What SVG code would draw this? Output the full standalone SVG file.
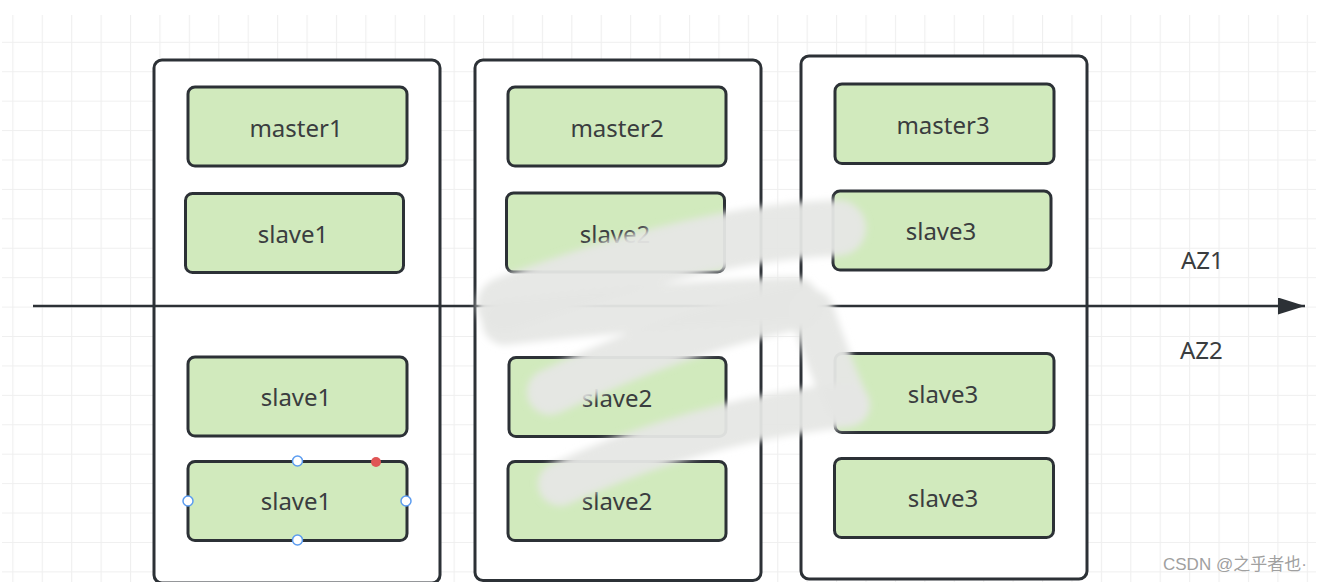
<svg xmlns="http://www.w3.org/2000/svg" width="1328" height="582" viewBox="0 0 1328 582">
  <style>
    .cont { fill: #ffffff; stroke: #2c3136; stroke-width: 3; }
    .node { fill: #d1eabd; stroke: #2c3136; stroke-width: 3; }
    .lbl { font-family: "Noto Sans", "Open Sans", sans-serif; font-size: 24px; fill: #3a3d3f; text-anchor: middle; }
    .az { font-family: "Noto Sans", "Open Sans", sans-serif; font-size: 24px; fill: #3a3d3f; }
    .handle { fill: #ffffff; stroke: #5b9cf0; stroke-width: 1.5; }
    .scrib { fill: none; stroke: #e6e7e5; stroke-linecap: round; stroke-linejoin: round; stroke-opacity: 0.95; }
  </style>
  <defs>
    <pattern id="grid" patternUnits="userSpaceOnUse" x="12.3" y="12.4" width="29.42" height="29.42">
      <path d="M0 0.5 H29.42 M0.5 0 V29.42" fill="none" stroke="#efefef" stroke-width="1.2"/>
    </pattern>
    <marker id="arrow" markerUnits="userSpaceOnUse" markerWidth="30" markerHeight="20" refX="27" refY="8.5" orient="auto">
      <path d="M0 0 L27 8.5 L0 17 Z" fill="#2c3136"/>
    </marker>
    <filter id="blur" x="-20%" y="-20%" width="140%" height="140%">
      <feGaussianBlur stdDeviation="3.5"/>
    </filter>
  </defs>

  <rect x="0" y="0" width="1328" height="582" fill="#ffffff"/>
  <rect x="2" y="15" width="1314" height="567" fill="url(#grid)"/>

  <g id="az1">
    <rect class="cont" x="154" y="60" width="286" height="523" rx="8"/>
  </g>
  <g id="az2">
    <rect class="cont" x="475" y="60" width="286" height="520.5" rx="8"/>
  </g>
  <g id="az3">
    <rect class="cont" x="801" y="56" width="286" height="523" rx="8"/>
  </g>

  <g id="connectors">
    <line x1="33" y1="306" x2="1305" y2="306" stroke="#2c3136" stroke-width="2.5" marker-end="url(#arrow)"/>
  </g>

  <g id="master1"><rect class="node" x="188" y="87" width="219" height="79" rx="7"/><text class="lbl" x="296" y="137">master1</text></g>
  <g id="slave1-a"><rect class="node" x="185.5" y="193.5" width="218" height="79" rx="7"/><text class="lbl" x="293" y="243">slave1</text></g>
  <g id="slave1-b"><rect class="node" x="188" y="357" width="219" height="79" rx="7"/><text class="lbl" x="296" y="406">slave1</text></g>
  <g id="slave1-c"><rect class="node" x="188" y="461.5" width="219" height="79" rx="7"/><text class="lbl" x="296" y="510">slave1</text></g>

  <g id="master2"><rect class="node" x="508" y="87" width="218" height="79" rx="7"/><text class="lbl" x="617" y="137">master2</text></g>
  <g id="slave2-a"><rect class="node" x="506.5" y="193" width="218" height="79" rx="7"/><text class="lbl" x="615" y="243">slave2</text></g>
  <g id="slave2-b"><rect class="node" x="509" y="357.5" width="217" height="79" rx="7"/><text class="lbl" x="617" y="407">slave2</text></g>
  <g id="slave2-c"><rect class="node" x="508" y="461.5" width="218" height="79" rx="7"/><text class="lbl" x="617" y="510">slave2</text></g>

  <g id="master3"><rect class="node" x="835" y="84" width="219" height="79.5" rx="7"/><text class="lbl" x="943" y="134">master3</text></g>
  <g id="slave3-a"><rect class="node" x="833" y="191" width="218" height="79" rx="7"/><text class="lbl" x="941" y="240">slave3</text></g>
  <g id="slave3-b"><rect class="node" x="835" y="353.5" width="219" height="79" rx="7"/><text class="lbl" x="943" y="403">slave3</text></g>
  <g id="slave3-c"><rect class="node" x="834.5" y="458.5" width="219" height="79" rx="7"/><text class="lbl" x="943" y="507">slave3</text></g>

  <g id="labels">
    <text class="az" x="1181" y="269">AZ1</text>
    <text class="az" x="1180" y="359">AZ2</text>
  </g>

  <g id="selection">
    <circle class="handle" cx="297.5" cy="461" r="5"/>
    <circle class="handle" cx="297.5" cy="540" r="5"/>
    <circle class="handle" cx="188" cy="501" r="5"/>
    <circle class="handle" cx="406" cy="501" r="5"/>
    <circle cx="376" cy="462" r="5" fill="#e05555"/>
  </g>

  <g id="scribble" filter="url(#blur)">
    <path class="scrib" stroke-width="56" d="M838 228 Q 700 232 505 305"/>
    <path class="scrib" stroke-width="46" d="M505 322 Q 650 305 795 300"/>
    <path class="scrib" stroke-width="46" d="M800 306 Q 680 330 550 392"/>
    <path class="scrib" stroke-width="44" d="M812 312 Q 828 360 846 402"/>
    <path class="scrib" stroke-width="44" d="M848 405 Q 700 420 560 484"/>
  </g>

  <text x="1163" y="570" font-family="'Liberation Sans', 'Noto Sans CJK SC', sans-serif" font-size="17" fill="#a0a0a0">CSDN @之乎者也·</text>
</svg>
